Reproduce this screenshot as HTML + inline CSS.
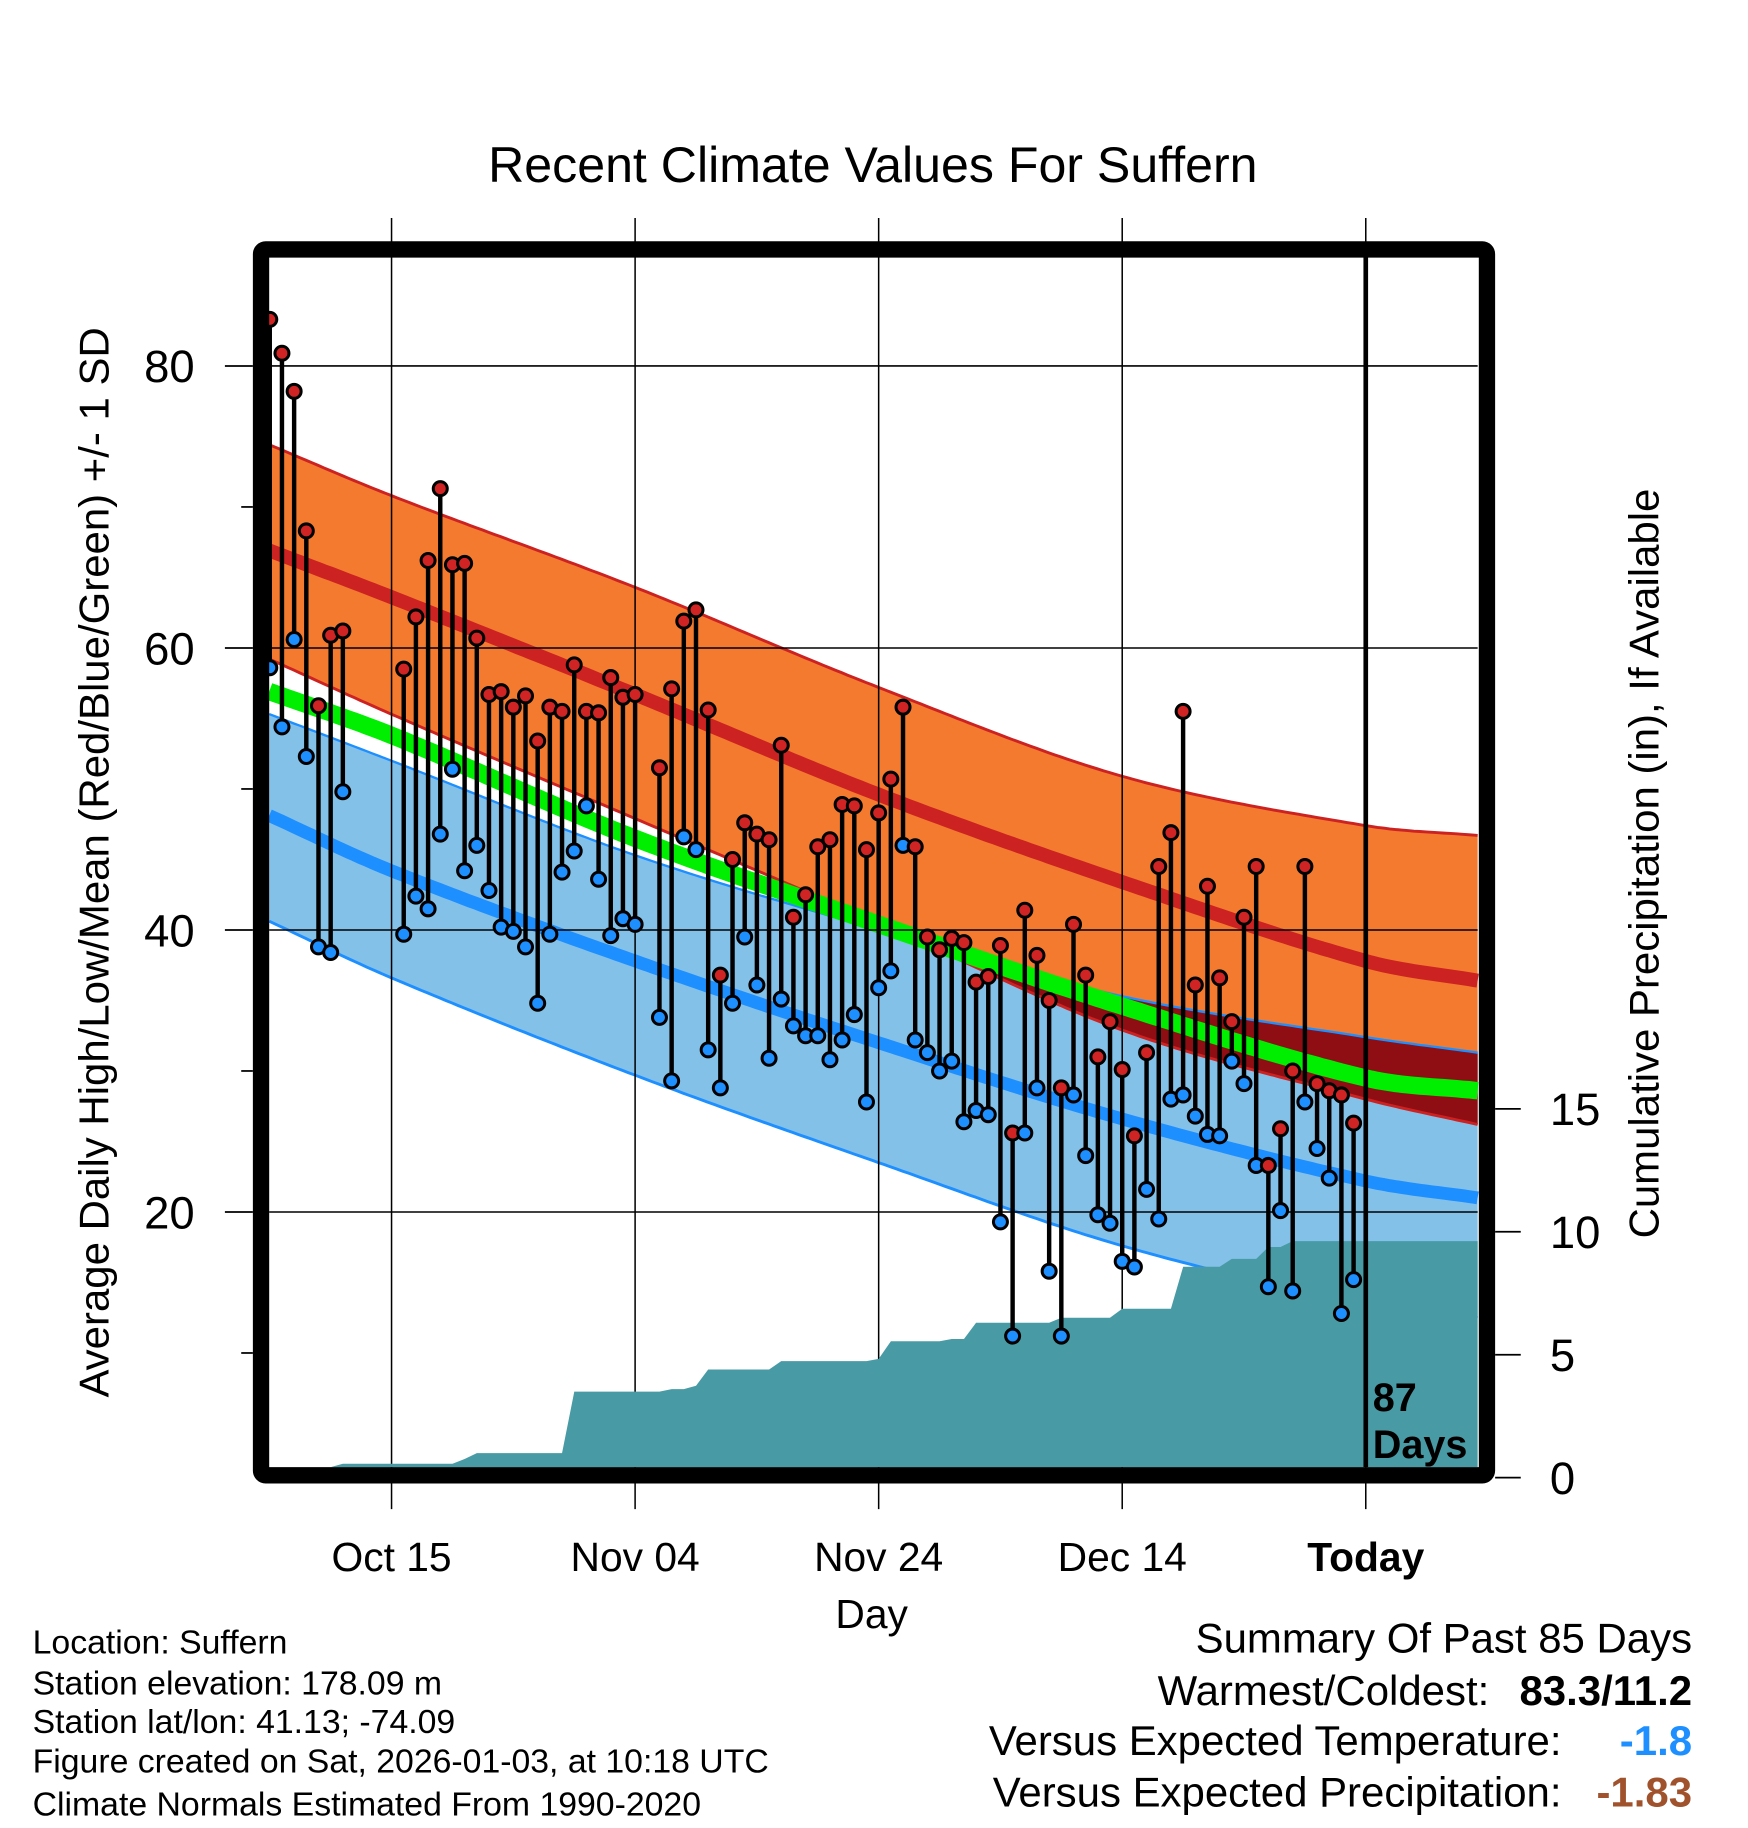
<!DOCTYPE html>
<html><head><meta charset="utf-8"><style>
html,body{margin:0;padding:0;background:#fff;}
svg{display:block;font-family:"Liberation Sans",sans-serif;}
</style></head><body>
<svg id="chart" width="1748" height="1828" viewBox="0 0 1500 1568.6" xmlns="http://www.w3.org/2000/svg">
<g id="bands"></g>
<g id="grid"></g>
<g id="precip"></g>
<g id="marks"></g>
<g id="axes"></g>
<text x="749" y="156" font-size="43" text-anchor="middle">Recent Climate Values For Suffern</text>
<text transform="translate(93,740) rotate(-90)" font-size="36" text-anchor="middle">Average Daily High/Low/Mean (Red/Blue/Green) +/- 1 SD</text>
<text transform="translate(1423,741) rotate(-90)" font-size="36" text-anchor="middle">Cumulative Precipitation (in), If Available</text>
<text x="748" y="1397" font-size="35" text-anchor="middle">Day</text>
<g font-size="29">
<text x="28" y="1419">Location: Suffern</text>
<text x="28" y="1454">Station elevation: 178.09 m</text>
<text x="28" y="1487">Station lat/lon: 41.13; -74.09</text>
<text x="28" y="1521">Figure created on Sat, 2026-01-03, at 10:18 UTC</text>
<text x="28" y="1558">Climate Normals Estimated From 1990-2020</text>
</g>
<g font-size="36" text-anchor="end">
<text x="1452" y="1418">Summary Of Past 85 Days</text>
<text x="1278" y="1463">Warmest/Coldest:</text>
<text x="1452" y="1463" font-weight="bold">83.3/11.2</text>
<text x="1340" y="1506">Versus Expected Temperature:</text>
<text x="1452" y="1506" font-weight="bold" fill="#1e8fff">-1.8</text>
<text x="1340" y="1550">Versus Expected Precipitation:</text>
<text x="1452" y="1550" font-weight="bold" fill="#a0522d">-1.83</text>
</g>
</svg>
<script>
// ---- data ----
const highs = [83.3,80.9,78.2,68.3,55.9,60.9,61.2,null,null,null,null,58.5,62.2,66.2,71.3,65.9,66.0,60.7,56.7,56.9,55.8,56.6,53.4,55.8,55.5,58.8,55.5,55.4,57.9,56.5,56.7,null,51.5,57.1,61.9,62.7,55.6,36.8,45.0,47.6,46.8,46.4,53.1,40.9,42.5,45.9,46.4,48.9,48.8,45.7,48.3,50.7,55.8,45.9,39.5,38.6,39.4,39.1,36.3,36.7,38.9,25.6,41.4,38.2,35.0,28.8,40.4,36.8,31.0,33.5,30.1,25.4,31.3,44.5,46.9,55.5,36.1,43.1,36.6,33.5,40.9,44.5,23.3,25.9,30.0,44.5,29.1,28.6,28.3,26.3];
const lows = [58.6,54.4,60.6,52.3,38.8,38.4,49.8,null,null,null,null,39.7,42.4,41.5,46.8,51.4,44.2,46.0,42.8,40.2,39.9,38.8,34.8,39.7,44.1,45.6,48.8,43.6,39.6,40.8,40.4,null,33.8,29.3,46.6,45.7,31.5,28.8,34.8,39.5,36.1,30.9,35.1,33.2,32.5,32.5,30.8,32.2,34.0,27.8,35.9,37.1,46.0,32.2,31.3,30.0,30.7,26.4,27.2,26.9,19.3,11.2,25.6,28.8,15.8,11.2,28.3,24.0,19.8,19.2,16.5,16.1,21.6,19.5,28.0,28.3,26.8,25.5,25.4,30.7,29.1,23.3,14.7,20.1,14.4,27.8,24.5,22.4,12.8,15.2];
const precipCum = [0,0,0,0,0,0,0.57,0.57,0.57,0.57,0.57,0.57,0.57,0.57,0.57,0.57,0.76,1.0,1.0,1.0,1.0,1.0,1.0,1.0,1.0,3.5,3.5,3.5,3.5,3.5,3.5,3.5,3.5,3.6,3.6,3.74,4.4,4.4,4.4,4.4,4.4,4.4,4.74,4.74,4.74,4.74,4.74,4.74,4.74,4.74,4.83,5.55,5.55,5.55,5.55,5.55,5.64,5.64,6.3,6.3,6.3,6.3,6.3,6.3,6.3,6.5,6.5,6.5,6.5,6.5,6.87,6.87,6.87,6.87,6.87,8.58,8.58,8.58,8.58,8.9,8.9,8.9,9.38,9.38,9.62,9.62,9.62,9.62,9.62,9.62];
const normDays = [-90,-80,-60,-40,-20,0,9.2];
const normHighPlus = [74.4,70.8,64.3,57.2,50.9,47.4,46.7];
const normHigh = [66.9,63.6,56.7,49.6,43.4,37.8,36.4];
const normHighMinus = [59.2,55.3,47.9,40.5,32.9,28.0,26.2];
const normMean = [56.9,53.8,46.5,40.4,34.6,29.5,28.6];
const normLowPlus = [55.3,52.0,45.3,40.0,35.3,32.4,31.3];
const normLow = [48.1,44.2,37.8,32.0,26.6,22.2,21.0];
const normLowMinus = [40.6,36.6,29.7,23.5,17.6,13.5,12.5];
const yTicks = [80,60,40,20];
const yMinor = [70,50,30,10];
const pTicks = [0,5,10,15];
const xTickDays = [-80,-60,-40,-20,0];
const xTickLabels = ["Oct 15","Nov 04","Nov 24","Dec 14","Today"];

// ---- scales ----
const L=231,R=1268,T=220,B=1259;
const xs = d => 1172 + 10.45*d;
const ys = v => 314 + (80-v)*12.1;
const yp = p => 1268 - 21.1*p;
const NS="http://www.w3.org/2000/svg";
function mk(tag, attrs, parent){const e=document.createElementNS(NS,tag);for(const k in attrs)e.setAttribute(k,attrs[k]);parent.appendChild(e);return e;}

function interp(arr, d){
  let i=0; while(i<normDays.length-2 && d>normDays[i+1]) i++;
  const x0=normDays[i],x1=normDays[i+1],t=(d-x0)/(x1-x0);
  const p0=arr[Math.max(i-1,0)],p1=arr[i],p2=arr[i+1],p3=arr[Math.min(i+2,arr.length-1)];
  const h=x1-x0;
  const m1=(i>0)?(p2-p0)/(normDays[i+1]-normDays[i-1])*h:(p2-p1);
  const m2=(i+2<arr.length)?(p3-p1)/(normDays[i+2]-normDays[i])*h:(p2-p1);
  const t2=t*t,t3=t2*t;
  return (2*t3-3*t2+1)*p1+(t3-2*t2+t)*m1+(-2*t3+3*t2)*p2+(t3-t2)*m2;
}
const dStart=(L-1172)/10.45, dEnd=(R-1172)/10.45;
const samp=[]; for(let d=dStart; d<dEnd; d+=0.5) samp.push(d); samp.push(dEnd);
function linePts(arr){return samp.map(d=>xs(d).toFixed(1)+","+ys(interp(arr,d)).toFixed(1));}
function bandPts(top,bot){return linePts(top).concat(linePts(bot).reverse()).join(" ");}

const bands=document.getElementById('bands');
let e;
e=mk('polygon',{points:bandPts(normHighPlus,normHighMinus),fill:'#f47a2f'},bands);


e=mk('polygon',{points:bandPts(normLowPlus,normLowMinus),fill:'#84c1e8'},bands);


const ovTop=samp.map(d=>{const a=interp(normLowPlus,d),b=interp(normHighMinus,d);return xs(d).toFixed(1)+","+ys(Math.max(a,b)).toFixed(1);});
const ovBot=samp.map(d=>xs(d).toFixed(1)+","+ys(interp(normHighMinus,d)).toFixed(1));
e=mk('polygon',{points:ovTop.concat(ovBot.reverse()).join(" "),fill:'#8e0e14'},bands);


function curve(arr,color,w,name){const p=mk('polyline',{points:linePts(arr).join(" "),fill:'none',stroke:color,'stroke-width':w},bands);}
curve(normHighPlus,'#cc2222',2.5,'high-plus-sd-line');
curve(normHighMinus,'#cc2222',2.5,'high-minus-sd-line');
curve(normLowPlus,'#1e8fff',2,'low-plus-sd-line');
curve(normLowMinus,'#1e8fff',2.5,'low-minus-sd-line');
curve(normMean,'#00ee00',15,'normal-mean-line');
curve(normHigh,'#cc2222',12,'normal-high-line');
curve(normLow,'#1e8fff',11,'normal-low-line');

// grid
const grid=document.getElementById('grid');
yTicks.forEach(v=>{const g=mk('line',{x1:L,x2:R,y1:ys(v),y2:ys(v),stroke:'#000','stroke-width':1.3},grid);});
xTickDays.forEach(d=>{const g=mk('line',{x1:xs(d),x2:xs(d),y1:187,y2:1295,stroke:'#000','stroke-width':1.3},grid);});

// precip
const pg=document.getElementById('precip');
const pp=[xs(-90)+","+B];
precipCum.forEach((p,i)=>{pp.push(xs(i-90).toFixed(1)+","+Math.min(B,yp(p)).toFixed(1));});
pp.push(R+","+Math.min(B,yp(precipCum[precipCum.length-1])).toFixed(1));
pp.push(R+","+B);
e=mk('polygon',{points:pp.join(" "),fill:'#489aa5'},pg);



// marks
const mg=document.getElementById('marks');
highs.forEach((h,i)=>{
  const l=lows[i]; if(h==null||l==null) return;
  const x=xs(i-90);
  const s=mk('line',{x1:x,x2:x,y1:ys(h),y2:ys(l),stroke:'#000','stroke-width':3.8},mg);
  
  
  const c1=mk('circle',{cx:x,cy:ys(l),r:6,fill:'#1e8fff',stroke:'#000','stroke-width':2.6},mg);
  
  
  const c2=mk('circle',{cx:x,cy:ys(h),r:6,fill:'#d02424',stroke:'#000','stroke-width':2.6},mg);
  
  
});
e=mk('line',{x1:xs(0),x2:xs(0),y1:T,y2:B,stroke:'#000','stroke-width':4},mg);


e=mk('text',{x:1178,y:1211,'font-size':34,'font-weight':'bold'},mg); e.textContent='87';


e=mk('text',{x:1178,y:1251,'font-size':34,'font-weight':'bold'},mg); e.textContent='Days';



// axes
const ax=document.getElementById('axes');
e=mk('rect',{x:224,y:214,width:1052,height:1052,fill:'none',stroke:'#000','stroke-width':14,rx:4},ax);


yTicks.forEach(v=>{
  const t=mk('line',{x1:193,x2:217,y1:ys(v),y2:ys(v),stroke:'#000','stroke-width':1.5},ax);
  
  
  const lb=mk('text',{x:167,y:ys(v)+14,'font-size':39,'text-anchor':'end'},ax); lb.textContent=v;
  
  
});
yMinor.forEach(v=>{const t=mk('line',{x1:207,x2:217,y1:ys(v),y2:ys(v),stroke:'#000','stroke-width':1.5},ax);});
pTicks.forEach(p=>{
  const t=mk('line',{x1:1283,x2:1305,y1:yp(p),y2:yp(p),stroke:'#000','stroke-width':1.5},ax);
  
  
  const lb=mk('text',{x:1330,y:yp(p)+14,'font-size':39},ax); lb.textContent=p;
  
  
});
xTickDays.forEach((d,i)=>{
  const lb=mk('text',{x:xs(d),y:1348,'font-size':35,'text-anchor':'middle'},ax); lb.textContent=xTickLabels[i];
  if(xTickLabels[i]==='Today') lb.setAttribute('font-weight','bold');
  
  
});
</script>
</body></html>
